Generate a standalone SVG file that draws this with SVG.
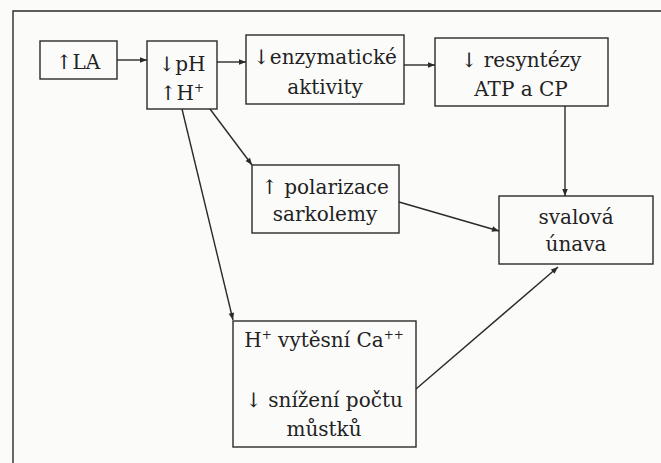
<svg xmlns="http://www.w3.org/2000/svg" width="661" height="463" viewBox="0 0 661 463">
<style>
.box{fill:none;stroke:#2a2a2a;stroke-width:1.4}
.t{font-family:"DejaVu Serif",serif;font-size:20px;fill:#222;text-anchor:middle}
.c{stroke:#2a2a2a;stroke-width:1.4;fill:none;marker-end:url(#ah)}
.sup{font-size:12px}
</style>
<defs>
<marker id="ah" viewBox="0 0 10 10" refX="10" refY="5" markerWidth="9" markerHeight="7" markerUnits="userSpaceOnUse" orient="auto">
<path d="M0,1 L10,5 L0,9 Z" fill="#2a2a2a"/>
</marker>
</defs>
<rect width="661" height="463" fill="#fbfbfa"/>
<path d="M13,463 L13,11 L661,11" fill="none" stroke="#2a2a2a" stroke-width="1.4"/>
<g id="connectors">
<line class="c" x1="117" y1="60" x2="147" y2="60"/>
<line class="c" x1="217" y1="62" x2="246" y2="62"/>
<line class="c" x1="404" y1="65" x2="435" y2="65"/>
<line class="c" x1="565" y1="106" x2="565" y2="196"/>
<line class="c" x1="210" y1="109" x2="252" y2="165"/>
<line class="c" x1="182" y1="109" x2="233" y2="320"/>
<line class="c" x1="399" y1="202" x2="499" y2="231"/>
<line class="c" x1="416" y1="389" x2="558" y2="267"/>
</g>
<g id="la">
<rect class="box" x="40" y="41" width="77" height="38"/>
<text class="t" x="78" y="69">↑LA</text>
</g>
<g id="ph">
<rect class="box" x="147" y="41" width="70" height="68"/>
<text class="t" x="182" y="71">↓pH</text>
<text class="t" x="182" y="100">↑H<tspan class="sup" dy="-8">+</tspan></text>
</g>
<g id="enzym">
<rect class="box" x="246" y="35" width="158" height="69"/>
<text class="t" x="325" y="64">↓enzymatické</text>
<text class="t" x="325" y="94">aktivity</text>
</g>
<g id="resynteza">
<rect class="box" x="435" y="38" width="173" height="68"/>
<text class="t" x="521" y="67">↓ resyntézy</text>
<text class="t" x="521" y="96">ATP a CP</text>
</g>
<g id="polarizace">
<rect class="box" x="252" y="165" width="147" height="68"/>
<text class="t" x="325" y="194">↑ polarizace</text>
<text class="t" x="325" y="221">sarkolemy</text>
</g>
<g id="unava">
<rect class="box" x="499" y="196" width="154" height="68"/>
<text class="t" x="576" y="224">svalová</text>
<text class="t" x="576" y="251">únava</text>
</g>
<g id="mustky">
<rect class="box" x="233" y="321" width="183" height="126"/>
<text class="t" x="324" y="347">H<tspan class="sup" dy="-8">+</tspan><tspan dy="8"> vytěsní Ca</tspan><tspan class="sup" dy="-8">++</tspan></text>
<text class="t" x="324" y="407">↓ snížení počtu</text>
<text class="t" x="324" y="436">můstků</text>
</g>
</svg>
